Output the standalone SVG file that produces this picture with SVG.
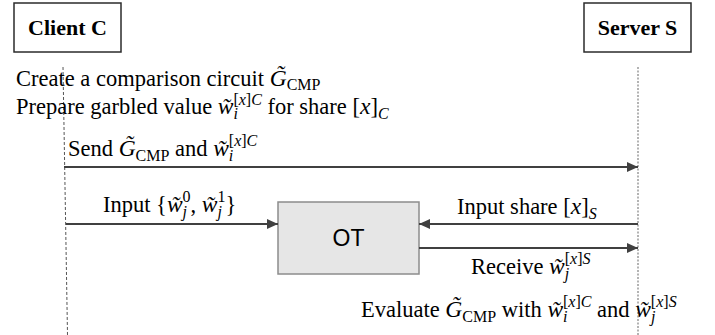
<svg xmlns="http://www.w3.org/2000/svg" width="715" height="335" viewBox="0 0 715 335">
  <style>
    .actor { fill: #ffffff; stroke: #2b2b2b; stroke-width: 1.5; }
    .title { font-family: "Liberation Serif", "Times New Roman", serif; font-size: 22px; font-weight: bold; fill: #000; }
    .txt { font-family: "Liberation Serif", "Times New Roman", serif; font-size: 22.5px; fill: #000; }
    .m { font-style: italic; font-size: 23.5px; }
    .s, .s.m, .s .m { font-size: 16px; }
    .msg { stroke: #404040; stroke-width: 2; fill: none; marker-end: url(#head); }
    .ot { fill: #e6e6e6; stroke: #8c8c8c; stroke-width: 1.5; }
    .otlabel { font-family: "Liberation Sans", Arial, sans-serif; font-size: 23px; fill: #000; }
  </style>
  <defs>
    <marker id="head" markerUnits="userSpaceOnUse" markerWidth="12" markerHeight="10" refX="11" refY="5" orient="auto">
      <path d="M0,0 L11,5 L0,10 z" fill="#404040"/>
    </marker>
  </defs>

  <rect width="715" height="335" fill="#ffffff"/>

  <!-- participants -->
  <g id="client">
    <rect class="actor" x="14" y="3" width="107" height="49"/>
    <text class="title" x="67.5" y="35" text-anchor="middle">Client C</text>
  </g>
  <g id="server">
    <rect class="actor" x="584" y="3" width="107" height="49"/>
    <text class="title" x="637.5" y="35" text-anchor="middle">Server S</text>
  </g>

  <!-- lifelines -->
  <g id="lifelines">
    <line x1="63" y1="67" x2="67.5" y2="335" stroke="#555555" stroke-width="1" stroke-dasharray="3,2"/>
    <line x1="638" y1="67" x2="638" y2="335" stroke="#9a9a9a" stroke-width="1.5" stroke-dasharray="2,1.5"/>
  </g>

  <!-- oblivious transfer -->
  <g id="ot">
    <rect class="ot" x="278" y="202" width="141" height="72"/>
    <text class="otlabel" x="348.5" y="246" text-anchor="middle">OT</text>
  </g>

  <!-- messages -->
  <g id="connectors">
    <line class="msg" x1="64" y1="167" x2="638" y2="167"/>
    <line class="msg" x1="66" y1="224" x2="278" y2="224"/>
    <line class="msg" x1="638" y1="224" x2="419" y2="224"/>
    <line class="msg" x1="419" y1="248" x2="638" y2="248"/>
  </g>

  <!-- step labels -->
  <g id="labels">
    <text class="txt" x="16" y="86">Create a comparison circuit <tspan class="m">G̃</tspan><tspan class="s" dy="4">CMP</tspan></text>

    <text class="txt" x="16" y="114">Prepare garbled value <tspan class="m">w̃</tspan><tspan class="s m" dy="5">i</tspan><tspan class="s" dx="-4.5" dy="-14">[<tspan class="m">x</tspan>]<tspan class="m">C</tspan></tspan><tspan dy="9"> for share [</tspan><tspan class="m">x</tspan>]<tspan class="s m" dy="5">C</tspan></text>

    <text class="txt" x="68" y="156">Send <tspan class="m">G̃</tspan><tspan class="s" dy="5">CMP</tspan><tspan dy="-5"> and </tspan><tspan class="m">w̃</tspan><tspan class="s m" dy="5">i</tspan><tspan class="s" dx="-4.5" dy="-15">[<tspan class="m">x</tspan>]<tspan class="m">C</tspan></tspan></text>

    <text class="txt" x="103" y="212">Input {<tspan class="m">w̃</tspan><tspan class="s m" dy="5">j</tspan><tspan class="s" dx="-4.5" dy="-15">0</tspan><tspan dy="10">, </tspan><tspan class="m">w̃</tspan><tspan class="s m" dy="5">j</tspan><tspan class="s" dx="-4.5" dy="-15">1</tspan><tspan dy="10">}</tspan></text>

    <text class="txt" x="457" y="214">Input share [<tspan class="m">x</tspan>]<tspan class="s m" dy="5">S</tspan></text>

    <text class="txt" x="471" y="274">Receive <tspan class="m">w̃</tspan><tspan class="s m" dy="5">j</tspan><tspan class="s" dx="-4.5" dy="-15">[<tspan class="m">x</tspan>]<tspan class="m">S</tspan></tspan></text>

    <text class="txt" x="361" y="317">Evaluate <tspan class="m">G̃</tspan><tspan class="s" dy="5">CMP</tspan><tspan dy="-5"> with </tspan><tspan class="m">w̃</tspan><tspan class="s m" dy="5">i</tspan><tspan class="s" dx="-4.5" dy="-15">[<tspan class="m">x</tspan>]<tspan class="m">C</tspan></tspan><tspan dy="10"> and </tspan><tspan class="m">w̃</tspan><tspan class="s m" dy="5">j</tspan><tspan class="s" dx="-4.5" dy="-15">[<tspan class="m">x</tspan>]<tspan class="m">S</tspan></tspan></text>
  </g>
</svg>
